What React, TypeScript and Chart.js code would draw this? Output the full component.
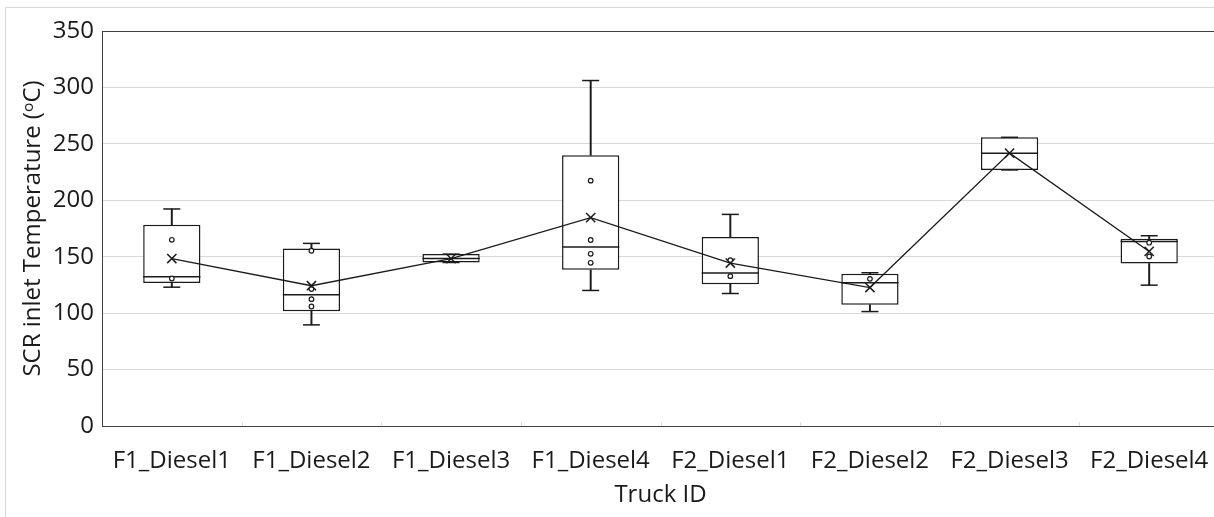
import React, { useEffect, useRef } from 'react';
import { Chart, registerables } from 'chart.js';

Chart.register(...registerables);

const categories = ['F1_Diesel1', 'F1_Diesel2', 'F1_Diesel3', 'F1_Diesel4', 'F2_Diesel1', 'F2_Diesel2', 'F2_Diesel3', 'F2_Diesel4'];
const whiskerMin = [123, 89.6, 144.9, 120.1, 117.4, 101.4, 226.9, 124.8];
const q1 = [126.6, 101.7, 144.9, 138.4, 125.7, 107.4, 226.9, 144.0];
const median = [132.2, 116.2, 148.4, 158.6, 135.5, 126.9, 241.6, 163.5];
const q3 = [178.3, 157.3, 152.3, 239.9, 167.4, 134.9, 255.8, 165.9];
const whiskerMax = [192.3, 161.8, 152.3, 306.1, 187.5, 135.8, 255.8, 168.6];
const mean = [148.4, 124.3, 148.3, 184.6, 144.4, 122.7, 241.8, 154.7];
const innerPoints = [
  [165, 130.7],
  [155.3, 121.3, 112.4, 105.9],
  [],
  [217.4, 164.8, 152.6, 144.6],
  [147, 132.8],
  [130.4],
  [],
  [162.4, 150.2],
];
const yTicks = [0, 50, 100, 150, 200, 250, 300, 350];

const FONT = '"Open Sans", "Noto Sans", sans-serif';
const INK = '#1a1a1a';
const BOX_FRACTION = 0.41;

const catTicks = {
  id: 'catTicks',
  beforeDatasetsDraw(chart: any) {
    const xs = chart.scales.x;
    const bottom = chart.chartArea.bottom;
    const step = xs.getPixelForValue(1) - xs.getPixelForValue(0);
    const c = chart.ctx;
    c.save();
    c.strokeStyle = '#d9d9d9';
    c.lineWidth = 1;
    for (let i = 1; i <= categories.length; i++) {
      const x = Math.round(xs.getPixelForValue(i) - step / 2) + 0.5;
      c.beginPath();
      c.moveTo(x, bottom - 4);
      c.lineTo(x, bottom);
      c.stroke();
    }
    c.restore();
  },
};

export default function App() {
  const ref = useRef<HTMLCanvasElement>(null);
  useEffect(() => {
    document.body.style.margin = '0';
    const pts: { x: string; y: number }[] = [];
    innerPoints.forEach((arr, i) => arr.forEach((v) => pts.push({ x: categories[i], y: v })));
    const halfBox = (ctx: any) => {
      const xs = ctx.chart.scales.x;
      return ((xs.right - xs.left) / categories.length) * BOX_FRACTION / 2;
    };
    const chart = new Chart(ref.current as HTMLCanvasElement, {
      type: 'bar',
      data: {
        labels: categories,
        datasets: [
          {
            type: 'line',
            data: pts as any,
            showLine: false,
            pointStyle: 'circle',
            pointRadius: 2.3,
            pointBorderWidth: 1.2,
            pointBackgroundColor: '#ffffff',
            pointBorderColor: INK,
          } as any,
          {
            type: 'line',
            data: mean,
            borderColor: INK,
            borderWidth: 1.3,
            tension: 0,
            pointStyle: 'crossRot',
            pointRadius: 6.5,
            pointBorderWidth: 1.5,
            pointBorderColor: INK,
          } as any,
          {
            type: 'line',
            data: median,
            showLine: false,
            pointStyle: 'line',
            pointRadius: halfBox,
            pointBorderWidth: 1.5,
            pointBorderColor: INK,
          } as any,
          {
            type: 'line',
            data: whiskerMax,
            showLine: false,
            pointStyle: 'line',
            pointRadius: 8.5,
            pointBorderWidth: 1.5,
            pointBorderColor: INK,
          } as any,
          {
            type: 'line',
            data: whiskerMin,
            showLine: false,
            pointStyle: 'line',
            pointRadius: 8.5,
            pointBorderWidth: 1.5,
            pointBorderColor: INK,
          } as any,
          {
            type: 'bar',
            data: q1.map((v, i) => [v, q3[i]]),
            backgroundColor: '#ffffff',
            borderColor: INK,
            borderWidth: 1.5,
            borderSkipped: false,
            grouped: false,
            categoryPercentage: 1,
            barPercentage: BOX_FRACTION,
          } as any,
          {
            type: 'bar',
            data: q3.map((v, i) => [v, whiskerMax[i]]),
            backgroundColor: INK,
            borderWidth: 0,
            grouped: false,
            barThickness: 1.3,
          } as any,
          {
            type: 'bar',
            data: whiskerMin.map((v, i) => [v, q1[i]]),
            backgroundColor: INK,
            borderWidth: 0,
            grouped: false,
            barThickness: 1.3,
          } as any,
        ],
      },
      options: {
        animation: false,
        responsive: true,
        maintainAspectRatio: false,
        layout: { padding: { left: 0, right: 11, top: 31, bottom: 0 } },
        plugins: { legend: { display: false }, tooltip: { enabled: false } },
        scales: {
          x: {
            type: 'category',
            grid: { display: false },
            border: { display: true, color: '#404040', width: 1 },
            ticks: { color: INK, font: { family: FONT, size: 24 }, padding: 13, maxRotation: 0, autoSkip: false },
            title: { display: true, text: 'Truck ID', color: INK, font: { family: FONT, size: 24 }, padding: { top: 0, bottom: 7 } },
            afterFit: (s: any) => { s.height = 91; },
          },
          y: {
            type: 'linear',
            min: 0,
            max: 350,
            afterBuildTicks: (s: any) => { s.ticks = yTicks.map((v) => ({ value: v })); },
            grid: {
              drawTicks: false,
              lineWidth: 1,
              color: (c: any) => (c.tick && c.tick.value === 350 ? '#404040' : '#d9d9d9'),
            },
            border: { display: true, color: '#404040', width: 1 },
            ticks: { color: INK, font: { family: FONT, size: 24 }, padding: 8 },
            title: { display: true, text: 'SCR inlet Temperature (ᵒC)', color: INK, font: { family: FONT, size: 24 }, padding: { top: 19, bottom: 0 } },
            afterFit: (s: any) => { s.width = 102; },
          },
        },
      },
      plugins: [catTicks],
    });
    return () => chart.destroy();
  }, []);
  return (
    <div style={{ position: 'relative', width: 1214, height: 517, overflow: 'hidden', background: '#ffffff' }}>
      <div style={{ position: 'absolute', left: 5, top: 7, width: 1300, height: 600, border: '1px solid #d9d9d9' }} />
      <div style={{ position: 'absolute', left: 0, top: 0, width: 1230, height: 517 }}>
        <canvas ref={ref} />
      </div>
    </div>
  );
}
